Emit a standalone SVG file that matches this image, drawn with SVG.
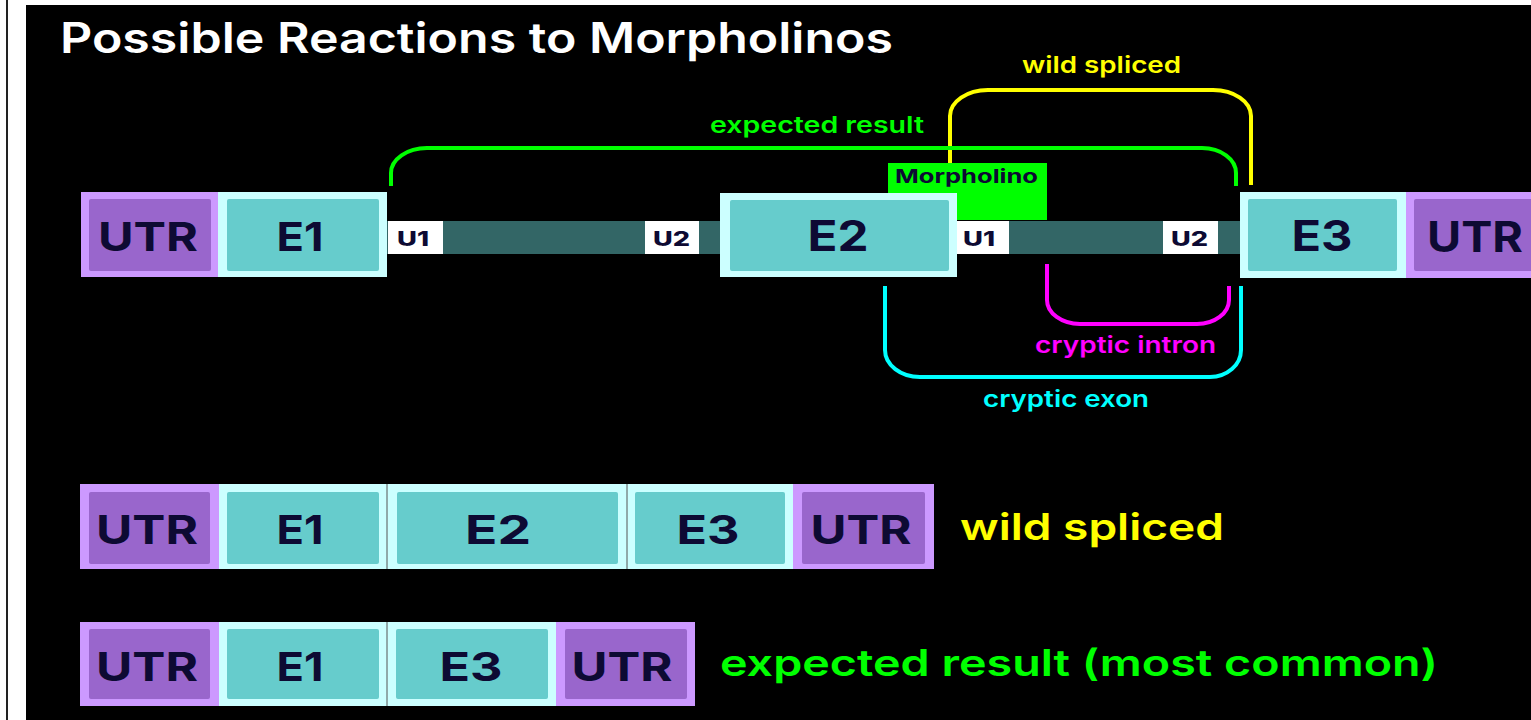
<svg xmlns="http://www.w3.org/2000/svg" width="1531" height="720" viewBox="0 0 1531 720">
<style>
.utro{fill:#cc99ff}.utri{fill:#9966cc}
.exo{fill:#ccffff}.exi{fill:#66cccc}
.lbl{font-family:Inter,"Noto Sans","DejaVu Sans",sans-serif;font-weight:700;fill:#0d0a33;text-anchor:middle}
.u{font-family:Inter,"Noto Sans","DejaVu Sans",sans-serif;font-weight:800;fill:#0d0a33;font-size:20px}
.cap{font-family:Inter,"Noto Sans","DejaVu Sans",sans-serif;font-weight:600}
.conn{fill:none;stroke-width:4}
.div{stroke:#555555;stroke-width:1}
</style>
<rect x="0" y="0" width="1531" height="720" fill="#ffffff"/>
<rect x="6" y="0" width="2" height="720" fill="#222222"/>
<rect x="26" y="5" width="1505" height="715" fill="#000000"/>
<text x="60" y="53" class="cap" font-size="42" fill="#ffffff" textLength="833" lengthAdjust="spacingAndGlyphs">Possible Reactions to Morpholinos</text>

<g id="pre-mrna">
<rect x="387" y="221" width="853" height="33" fill="#336666"/>
</g>
<g id="utr-left">
<rect class="utro" x="81" y="192" width="137" height="85"/><rect class="utri" x="89" y="199" width="122" height="72" rx="2"/>
<text class="lbl" x="148" y="251" font-size="40" textLength="100" lengthAdjust="spacingAndGlyphs">UTR</text>
</g>
<g id="e1">
<rect class="exo" x="218" y="192" width="169" height="85"/><rect class="exi" x="227" y="199" width="152" height="72" rx="2"/>
<text class="lbl" x="300" y="251" font-size="40" textLength="47" lengthAdjust="spacingAndGlyphs">E1</text>
</g>
<g id="u1a"><rect x="388" y="221" width="55" height="33" fill="#ffffff"/><text class="u" x="397" y="246" textLength="32" lengthAdjust="spacingAndGlyphs">U1</text></g>
<g id="u2a"><rect x="645" y="221" width="54" height="33" fill="#ffffff"/><text class="u" x="653" y="246" textLength="37" lengthAdjust="spacingAndGlyphs">U2</text></g>
<g id="morpholino">
<rect x="888" y="163" width="159" height="57" fill="#00ff00"/>
<text x="895" y="183" font-family="Inter,'Noto Sans','DejaVu Sans',sans-serif" font-weight="700" font-size="19" fill="#0d0a33" textLength="143" lengthAdjust="spacingAndGlyphs">Morpholino</text>
</g>
<g id="e2">
<rect class="exo" x="720" y="193" width="237" height="84"/><rect class="exi" x="730" y="200" width="219" height="71" rx="2"/>
<text class="lbl" x="838" y="251" font-size="42" textLength="61" lengthAdjust="spacingAndGlyphs">E2</text>
</g>
<g id="u1b"><rect x="957" y="221" width="52" height="33" fill="#ffffff"/><text class="u" x="963" y="246" textLength="32" lengthAdjust="spacingAndGlyphs">U1</text></g>
<g id="u2b"><rect x="1163" y="221" width="55" height="33" fill="#ffffff"/><text class="u" x="1171" y="246" textLength="37" lengthAdjust="spacingAndGlyphs">U2</text></g>
<g id="e3">
<rect class="exo" x="1240" y="192" width="166" height="86"/><rect class="exi" x="1248" y="199" width="149" height="72" rx="2"/>
<text class="lbl" x="1322" y="251" font-size="42" textLength="61" lengthAdjust="spacingAndGlyphs">E3</text>
</g>
<g id="utr-right">
<rect class="utro" x="1406" y="192" width="140" height="86"/><rect class="utri" x="1414" y="199" width="130" height="72" rx="2"/>
<text class="lbl" x="1475" y="252" font-size="42" textLength="96" lengthAdjust="spacingAndGlyphs">UTR</text>
</g>

<g id="connectors">
<path class="conn" stroke="#ffff00" d="M950,163 V116 A38,26 0 0 1 988,90 H1213 A38,26 0 0 1 1251,116 V185"/>
<path class="conn" stroke="#00ff00" d="M391,186 V173 A36,25 0 0 1 427,148 H1202 A34,25 0 0 1 1236,173 V186"/>
<path class="conn" stroke="#00ffff" d="M885,286 V350 A35,27 0 0 0 920,377 H1210 A31,27 0 0 0 1241,350 V286"/>
<path class="conn" stroke="#ff00ff" d="M1047,264 V300 A33,24 0 0 0 1080,324 H1197 A32,24 0 0 0 1229,300 V286"/>
</g>
<g id="connector-labels">
<text class="cap" x="710" y="133" font-size="23" fill="#00ff00" textLength="214" lengthAdjust="spacingAndGlyphs">expected result</text>
<text class="cap" x="1022" y="73" font-size="23" fill="#ffff00" textLength="159" lengthAdjust="spacingAndGlyphs">wild spliced</text>
<text class="cap" x="1035" y="353" font-size="23" fill="#ff00ff" textLength="181" lengthAdjust="spacingAndGlyphs">cryptic intron</text>
<text class="cap" x="983" y="407" font-size="23" fill="#00ffff" textLength="166" lengthAdjust="spacingAndGlyphs">cryptic exon</text>
</g>

<g id="wild-row">
<rect class="utro" x="80" y="484" width="139" height="85"/><rect class="utri" x="89" y="492" width="121" height="72" rx="2"/>
<text class="lbl" x="147" y="544" font-size="40" textLength="102" lengthAdjust="spacingAndGlyphs">UTR</text>
<rect class="exo" x="219" y="484" width="168" height="85"/><rect class="exi" x="227" y="492" width="152" height="72" rx="2"/>
<text class="lbl" x="300" y="544" font-size="40" textLength="47" lengthAdjust="spacingAndGlyphs">E1</text>
<rect class="exo" x="387" y="484" width="240" height="85"/><rect class="exi" x="397" y="492" width="221" height="72" rx="2"/>
<text class="lbl" x="498" y="544" font-size="40" textLength="66" lengthAdjust="spacingAndGlyphs">E2</text>
<rect class="exo" x="627" y="484" width="166" height="85"/><rect class="exi" x="635" y="492" width="150" height="72" rx="2"/>
<text class="lbl" x="708" y="544" font-size="40" textLength="63" lengthAdjust="spacingAndGlyphs">E3</text>
<rect class="utro" x="793" y="484" width="141" height="85"/><rect class="utri" x="802" y="492" width="123" height="72" rx="2"/>
<text class="lbl" x="861" y="544" font-size="40" textLength="101" lengthAdjust="spacingAndGlyphs">UTR</text>
<line class="div" x1="387" y1="484" x2="387" y2="569"/><line class="div" x1="627" y1="484" x2="627" y2="569"/>
<text class="cap" x="960" y="540" font-size="37" fill="#ffff00" font-weight="500" textLength="264" lengthAdjust="spacingAndGlyphs">wild spliced</text>
</g>

<g id="expected-row">
<rect class="utro" x="80" y="622" width="139" height="84"/><rect class="utri" x="89" y="629" width="121" height="70" rx="2"/>
<text class="lbl" x="147" y="681" font-size="40" textLength="102" lengthAdjust="spacingAndGlyphs">UTR</text>
<rect class="exo" x="219" y="622" width="168" height="84"/><rect class="exi" x="227" y="629" width="152" height="70" rx="2"/>
<text class="lbl" x="300" y="681" font-size="40" textLength="47" lengthAdjust="spacingAndGlyphs">E1</text>
<rect class="exo" x="387" y="622" width="169" height="84"/><rect class="exi" x="396" y="629" width="152" height="70" rx="2"/>
<text class="lbl" x="471" y="681" font-size="40" textLength="63" lengthAdjust="spacingAndGlyphs">E3</text>
<rect class="utro" x="556" y="622" width="139" height="84"/><rect class="utri" x="565" y="629" width="122" height="70" rx="2"/>
<text class="lbl" x="622" y="681" font-size="40" textLength="101" lengthAdjust="spacingAndGlyphs">UTR</text>
<line class="div" x1="387" y1="622" x2="387" y2="706"/>
<text class="cap" x="720" y="676" font-size="37" fill="#00ff00" font-weight="500" textLength="718" lengthAdjust="spacingAndGlyphs">expected result (most common)</text>
</g>
</svg>
